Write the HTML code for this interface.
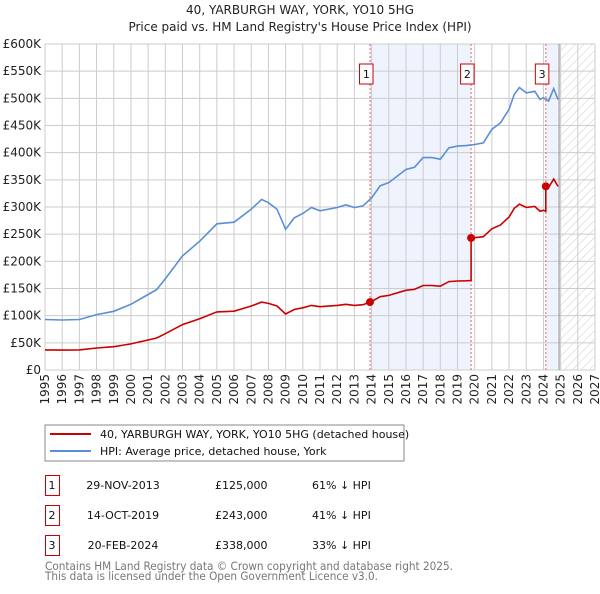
<!DOCTYPE html>
<html><head><meta charset="utf-8"><style>
body{margin:0;background:#fff;width:600px;height:590px;overflow:hidden;font-family:"DejaVu Sans","Liberation Sans",sans-serif;}
svg text{font-family:"DejaVu Sans","Liberation Sans",sans-serif;}
</style></head><body>
<svg id="c" width="600" height="590" xmlns="http://www.w3.org/2000/svg">
<defs><pattern id="hatch" width="6" height="6" patternUnits="userSpaceOnUse" patternTransform="rotate(45)"><line x1="0" y1="0" x2="0" y2="6" stroke="#ccc" stroke-width="1"/></pattern></defs>
<text x="300" y="14" text-anchor="middle" font-size="12" fill="#222">40, YARBURGH WAY, YORK, YO10 5HG</text>
<text x="300" y="31" text-anchor="middle" font-size="12" fill="#222">Price paid vs. HM Land Registry's House Price Index (HPI)</text>
<g id="plot"></g>
<rect x="45" y="425" width="359" height="36" fill="#fff" stroke="#888"/>
<line x1="50" y1="434" x2="91" y2="434" stroke="#cc0000" stroke-width="2"/>
<text x="100" y="438" font-size="11" fill="#111">40, YARBURGH WAY, YORK, YO10 5HG (detached house)</text>
<line x1="50" y1="451" x2="91" y2="451" stroke="#5b8ed6" stroke-width="2"/>
<text x="100" y="455" font-size="11" fill="#111">HPI: Average price, detached house, York</text>
<g id="table" font-size="11" fill="#111"></g>
<text x="45" y="570" font-size="11.5" fill="#777" textLength="408" lengthAdjust="spacingAndGlyphs">Contains HM Land Registry data © Crown copyright and database right 2025.</text>
<text x="45" y="580" font-size="11.5" fill="#777" textLength="333" lengthAdjust="spacingAndGlyphs">This data is licensed under the Open Government Licence v3.0.</text>
</svg>
<script>
const hpiYears=[1995,1996,1997,1998,1999,2000,2001,2001.5,2002,2003,2004,2005,2006,2007,2007.6,2008,2008.5,2009,2009.5,2010,2010.5,2011,2012,2012.5,2013,2013.5,2014,2014.5,2015,2016,2016.5,2017,2017.5,2018,2018.5,2019,2019.5,2020,2020.5,2021,2021.5,2022,2022.3,2022.6,2023,2023.5,2023.8,2024,2024.3,2024.6,2024.85];
const hpiValues=[93,92,93,102,108,121,139,148,168,210,237,269,272,296,314,308,296,259,280,288,299,293,299,304,299,302,317,339,345,369,373,391,391,388,409,412,413,415,418,443,455,480,507,520,510,513,498,501,495,518,498];
const saleYears=[2013.91,2019.79,2024.14];
const salePrices=[125,243,338];
const saleLabels=["1","2","3"];
const saleDates=["29-NOV-2013","14-OCT-2019","20-FEB-2024"];
const salePriceText=["£125,000","£243,000","£338,000"];
const saleDiffs=["61% ↓ HPI","41% ↓ HPI","33% ↓ HPI"];
const yTicks=[0,50,100,150,200,250,300,350,400,450,500,550,600];
const yTickLabels=["£0","£50K","£100K","£150K","£200K","£250K","£300K","£350K","£400K","£450K","£500K","£550K","£600K"];
const xTicks=[1995,1996,1997,1998,1999,2000,2001,2002,2003,2004,2005,2006,2007,2008,2009,2010,2011,2012,2013,2014,2015,2016,2017,2018,2019,2020,2021,2022,2023,2024,2025,2026,2027];

const X0=45,X1=595,Y0=370,Y1=44;
const xs=y=>X0+(y-1995)/(2027-1995)*(X1-X0);
const ys=v=>Y0-v/600*(Y0-Y1);
const NS="http://www.w3.org/2000/svg";
function mk(tag,attrs,parent){const e=document.createElementNS(NS,tag);for(const k in attrs)e.setAttribute(k,attrs[k]);parent.appendChild(e);return e;}
const g=document.getElementById('plot');
function hpiAt(t){for(let i=0;i<hpiYears.length-1;i++){if(t>=hpiYears[i]&&t<=hpiYears[i+1]){const f=(t-hpiYears[i])/(hpiYears[i+1]-hpiYears[i]);return hpiValues[i]+f*(hpiValues[i+1]-hpiValues[i]);}}return hpiValues[hpiValues.length-1];}
const endYear=hpiYears[hpiYears.length-1];
let r=mk('rect',{x:xs(saleYears[0]),y:Y1,width:xs(saleYears[1])-xs(saleYears[0]),height:Y0-Y1,fill:'#eef3fd'},g);


r=mk('rect',{x:xs(saleYears[2]),y:Y1,width:xs(endYear)-xs(saleYears[2]),height:Y0-Y1,fill:'#eef3fd'},g);


r=mk('rect',{x:xs(endYear)+1,y:Y1,width:X1-xs(endYear)-1,height:Y0-Y1,fill:'url(#hatch)'},g);


yTicks.forEach((v,i)=>{
 const l=mk('line',{x1:X0,x2:X1,y1:ys(v),y2:ys(v),stroke:'#cccccc','stroke-width':1},g);
 
 
 const t=mk('text',{x:X0-4,y:ys(v)+4,'text-anchor':'end','font-size':12,fill:'#222'},g);
 t.textContent=yTickLabels[i];
 
 
});
xTicks.forEach(y=>{
 const l=mk('line',{x1:xs(y),x2:xs(y),y1:Y1,y2:Y0,stroke:'#cccccc','stroke-width':1},g);
 
 
 const t=mk('text',{x:0,y:0,'text-anchor':'end','font-size':12,fill:'#222',transform:`translate(${xs(y)+4},${Y0+4}) rotate(-90)`},g);
 t.textContent=y;
 
 
});
const fl=mk('line',{x1:xs(endYear)+1,x2:xs(endYear)+1,y1:Y1,y2:Y0,stroke:'#888','stroke-width':1},g);


saleYears.forEach((s,i)=>{
 const l=mk('line',{x1:xs(s),x2:xs(s),y1:Y1,y2:Y0,stroke:'#f06060','stroke-width':1,'stroke-dasharray':'2,2'},g);
 
 
 const bx=mk('rect',{x:xs(s)-10.5,y:64,width:13.5,height:20,fill:'#fff',stroke:'#cc0000'},g);
 
 
 const t=mk('text',{x:xs(s)-3.7,y:78,'text-anchor':'middle','font-size':11,fill:'#111'},g);
 t.textContent=saleLabels[i];
 
 
});
const pb=hpiYears.map((y,i)=>xs(y).toFixed(1)+','+ys(hpiValues[i]).toFixed(1)).join(' ');
const hl=mk('polyline',{points:pb,fill:'none',stroke:'#5b8ed6','stroke-width':1.6},g);


const pts=[];
function factorAt(t){let k=0;for(let i=0;i<saleYears.length;i++)if(t>=saleYears[i])k=i;return salePrices[k]/hpiAt(saleYears[k]);}
const all=[...hpiYears,...saleYears].sort((a,b)=>a-b);
all.forEach((t,j)=>{
 if(saleYears.includes(t)&&j>0){const prev=all[j-1];pts.push(xs(t).toFixed(1)+','+ys(hpiAt(t)*factorAt(prev)).toFixed(1));}
 pts.push(xs(t).toFixed(1)+','+ys(hpiAt(t)*factorAt(t)).toFixed(1));
});
const rl=mk('polyline',{points:pts.join(' '),fill:'none',stroke:'#cc0000','stroke-width':1.6},g);


saleYears.forEach((s,i)=>{
 const c=mk('circle',{cx:xs(s),cy:ys(salePrices[i]),r:4,fill:'#cc0000'},g);
 
 
});
const tb=document.getElementById('table');
saleYears.forEach((s,i)=>{
 const y0=475+i*30;
 const b=mk('rect',{x:45.5,y:y0+0.5,width:14,height:20,fill:'#fff',stroke:'#cc0000'},tb);
 
 
 const cols=[[52,saleLabels[i],'middle'],[123,saleDates[i],'middle'],[215,salePriceText[i],'start'],[312,saleDiffs[i],'start']];
 cols.forEach(c=>{
  const t=mk('text',{x:c[0],y:y0+14,'text-anchor':c[2]},tb);
  t.textContent=c[1];
  
  
 });
});
</script>
</body></html>
